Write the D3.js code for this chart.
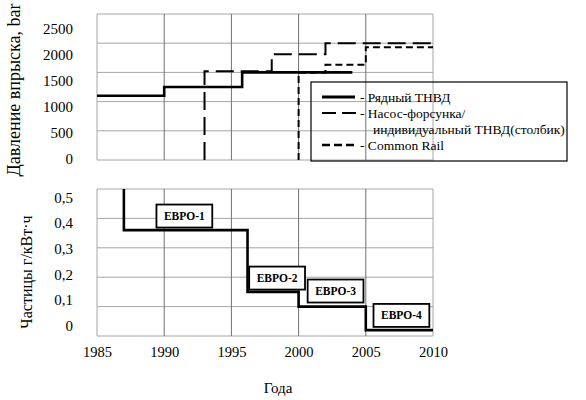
<!DOCTYPE html>
<html><head><meta charset="utf-8">
<script src="https://cdn.jsdelivr.net/npm/d3@7"></script>
<style>
body{margin:0;background:#fff;}
</style></head>
<body><svg id="c" width="586" height="400" font-family="Liberation Serif"></svg>
<script>
// ---- data ----
const xTicks = [1985, 1990, 1995, 2000, 2005, 2010];
const pressureTicks = [0, 500, 1000, 1500, 2000, 2500];
const pressureTickLabels = ["0", "500", "1000", "1500", "2000", "2500"];
const particleTicks = [0, 0.1, 0.2, 0.3, 0.4, 0.5];
const particleTickLabels = ["0", "0,1", "0,2", "0,3", "0,4", "0,5"];

const inlineYears  = [1985, 1990, 1995.8, 2004];
const inlineValues = [1100, 1250, 1500, 1500];
const unitYears    = [1993, 1993, 1998, 2002, 2010];
const unitValues   = [0, 1520, 1810, 2000, 2000];
const railYears    = [2000, 2000, 2002, 2005, 2010];
const railValues   = [0, 1500, 1630, 1930, 1930];

const pmYears  = [1987, 1987, 1996.2, 2000, 2005, 2010];
const pmValues = [0.5, 0.36, 0.15, 0.10, 0.02, 0.02];

const euroLabels = ["ЕВРО-1", "ЕВРО-2", "ЕВРО-3", "ЕВРО-4"];
const euroYears  = [1991.5, 1998.4, 2002.75, 2007.65];
const euroValues = [0.408, 0.197, 0.153, 0.07];

const legendLabels = ["- Рядный ТНВД", "- Насос-форсунка/", "индивидуальный ТНВД(столбик)", "- Common Rail"];

const FONT = "Liberation Serif";

// ---- scales ----
const svg = d3.select("#c");
const x = d3.scaleLinear().domain([1985, 2010]).range([97, 433]);
const yP = d3.scaleLinear().domain([0, 2500]).range([160, 14]);
const yPLab = d3.scaleLinear().domain([0, 2500]).range([158.5, 29]);
const yM = d3.scaleLinear().domain([0, 0.5]).range([336, 189]);
const yMLab = d3.scaleLinear().domain([0, 0.5]).range([325.5, 197.5]);

function grid(y, yTicks, top, bottom) {
  const g = svg.append("g");
  g.selectAll("line.h").data(yTicks).join("line")
    .attr("x1", x(1985)).attr("x2", x(2010))
    .attr("y1", d => y(d)).attr("y2", d => y(d))
    .attr("stroke", "#a6a6a6").attr("stroke-width", 1);
  g.selectAll("line.v").data(xTicks).join("line")
    .attr("x1", d => x(d)).attr("x2", d => x(d))
    .attr("y1", top).attr("y2", bottom)
    .attr("stroke", (d, i) => (i === 0 || i === xTicks.length - 1) ? "#a6a6a6" : "#707070")
    .attr("stroke-width", 1);
}
grid(yP, pressureTicks, yP(2500), yP(0));
grid(yM, particleTicks, yM(0.5), yM(0));

function setFont(sel, size, weight) {
  sel.attr("font-family", FONT).attr("font-size", size)
     .style("font-family", "'Liberation Serif', Tinos, serif").style("font-size", size + "px");
  if (weight) sel.attr("font-weight", weight).style("font-weight", weight);
  return sel;
}

function styleAxis(g, size) {
  g.select(".domain").remove();
  g.attr("font-family", FONT).attr("font-size", size);
  setFont(g.selectAll("text"), size).attr("fill", "#000");
}

// tick labels via axes
const axP = d3.axisLeft(yPLab).tickValues(pressureTicks).tickSize(0).tickPadding(0)
  .tickFormat((d, i) => pressureTickLabels[i]);
styleAxis(svg.append("g").attr("transform", "translate(73,0)").call(axP), 15);

const axM = d3.axisLeft(yMLab).tickValues(particleTicks).tickSize(0).tickPadding(0)
  .tickFormat((d, i) => particleTickLabels[i]);
styleAxis(svg.append("g").attr("transform", "translate(73,0)").call(axM), 15);

const axX = d3.axisBottom(x).tickValues(xTicks).tickSize(0).tickPadding(0).tickFormat(d3.format("d"));
styleAxis(svg.append("g").attr("transform", "translate(0,347)").call(axX), 14.5);

// ---- lines ----
const step = (xs, ys, yS) => d3.line().curve(d3.curveStepAfter)
  .x((d, i) => x(xs[i])).y((d, i) => yS(ys[i]))(xs);

svg.append("path").attr("d", step(unitYears, unitValues, yP))
  .attr("fill", "none").attr("stroke", "#000").attr("stroke-width", 2).attr("stroke-dasharray", "18,7");
svg.append("path").attr("d", step(railYears, railValues, yP))
  .attr("fill", "none").attr("stroke", "#000").attr("stroke-width", 2).attr("stroke-dasharray", "7,4");
svg.append("path").attr("d", step(inlineYears, inlineValues, yP))
  .attr("fill", "none").attr("stroke", "#000").attr("stroke-width", 2.6);

svg.append("path").attr("d", step(pmYears, pmValues, yM))
  .attr("fill", "none").attr("stroke", "#000").attr("stroke-width", 2.6);

// ---- euro boxes ----
const eg = svg.append("g").selectAll("g").data(euroLabels).join("g")
  .attr("transform", (d, i) => `translate(${x(euroYears[i])},${yM(euroValues[i])})`);
setFont(eg.append("text").text(d => d).attr("text-anchor", "middle").attr("dy", "0.35em"), 11.5, "bold");
eg.each(function() {
  const g = d3.select(this);
  const w = g.select("text").node().getComputedTextLength() + 15;
  g.insert("rect", "text").attr("x", -w / 2).attr("y", -11.5).attr("width", w).attr("height", 23)
    .attr("fill", "#fff").attr("stroke", "#000").attr("stroke-width", 1.8);
});

// ---- legend ----
const lg = svg.append("g");
lg.append("rect").attr("x", 311).attr("y", 82).attr("width", 256).attr("height", 79)
  .attr("fill", "none").attr("stroke", "#000").attr("stroke-width", 1.2);
lg.append("line").attr("x1", 322).attr("x2", 355).attr("y1", 97).attr("y2", 97)
  .attr("stroke", "#000").attr("stroke-width", 3);
lg.append("line").attr("x1", 322).attr("x2", 356).attr("y1", 113).attr("y2", 113)
  .attr("stroke", "#000").attr("stroke-width", 2).attr("stroke-dasharray", "14,6");
lg.append("line").attr("x1", 322).attr("x2", 356).attr("y1", 145).attr("y2", 145)
  .attr("stroke", "#000").attr("stroke-width", 2.5).attr("stroke-dasharray", "8,4");
const legX = [360, 360, 373, 360];
const legY = [97, 113, 129, 145];
setFont(lg.selectAll("text").data(legendLabels).join("text")
  .attr("x", (d, i) => legX[i]).attr("y", (d, i) => legY[i]).attr("dy", "0.35em").text(d => d), 13.5);

// ---- titles ----
setFont(svg.append("text").attr("transform", "translate(20,90) rotate(-90)").attr("text-anchor", "middle")
  .text("Давление впрыска, bar"), 18);
setFont(svg.append("text").attr("transform", "translate(32,272) rotate(-90)").attr("text-anchor", "middle")
  .text("Частицы  г/кВт·ч"), 16);
setFont(svg.append("text").attr("x", 278).attr("y", 388).attr("dy", "0.35em").attr("text-anchor", "middle")
  .text("Года"), 15);
</script>
</body></html>
